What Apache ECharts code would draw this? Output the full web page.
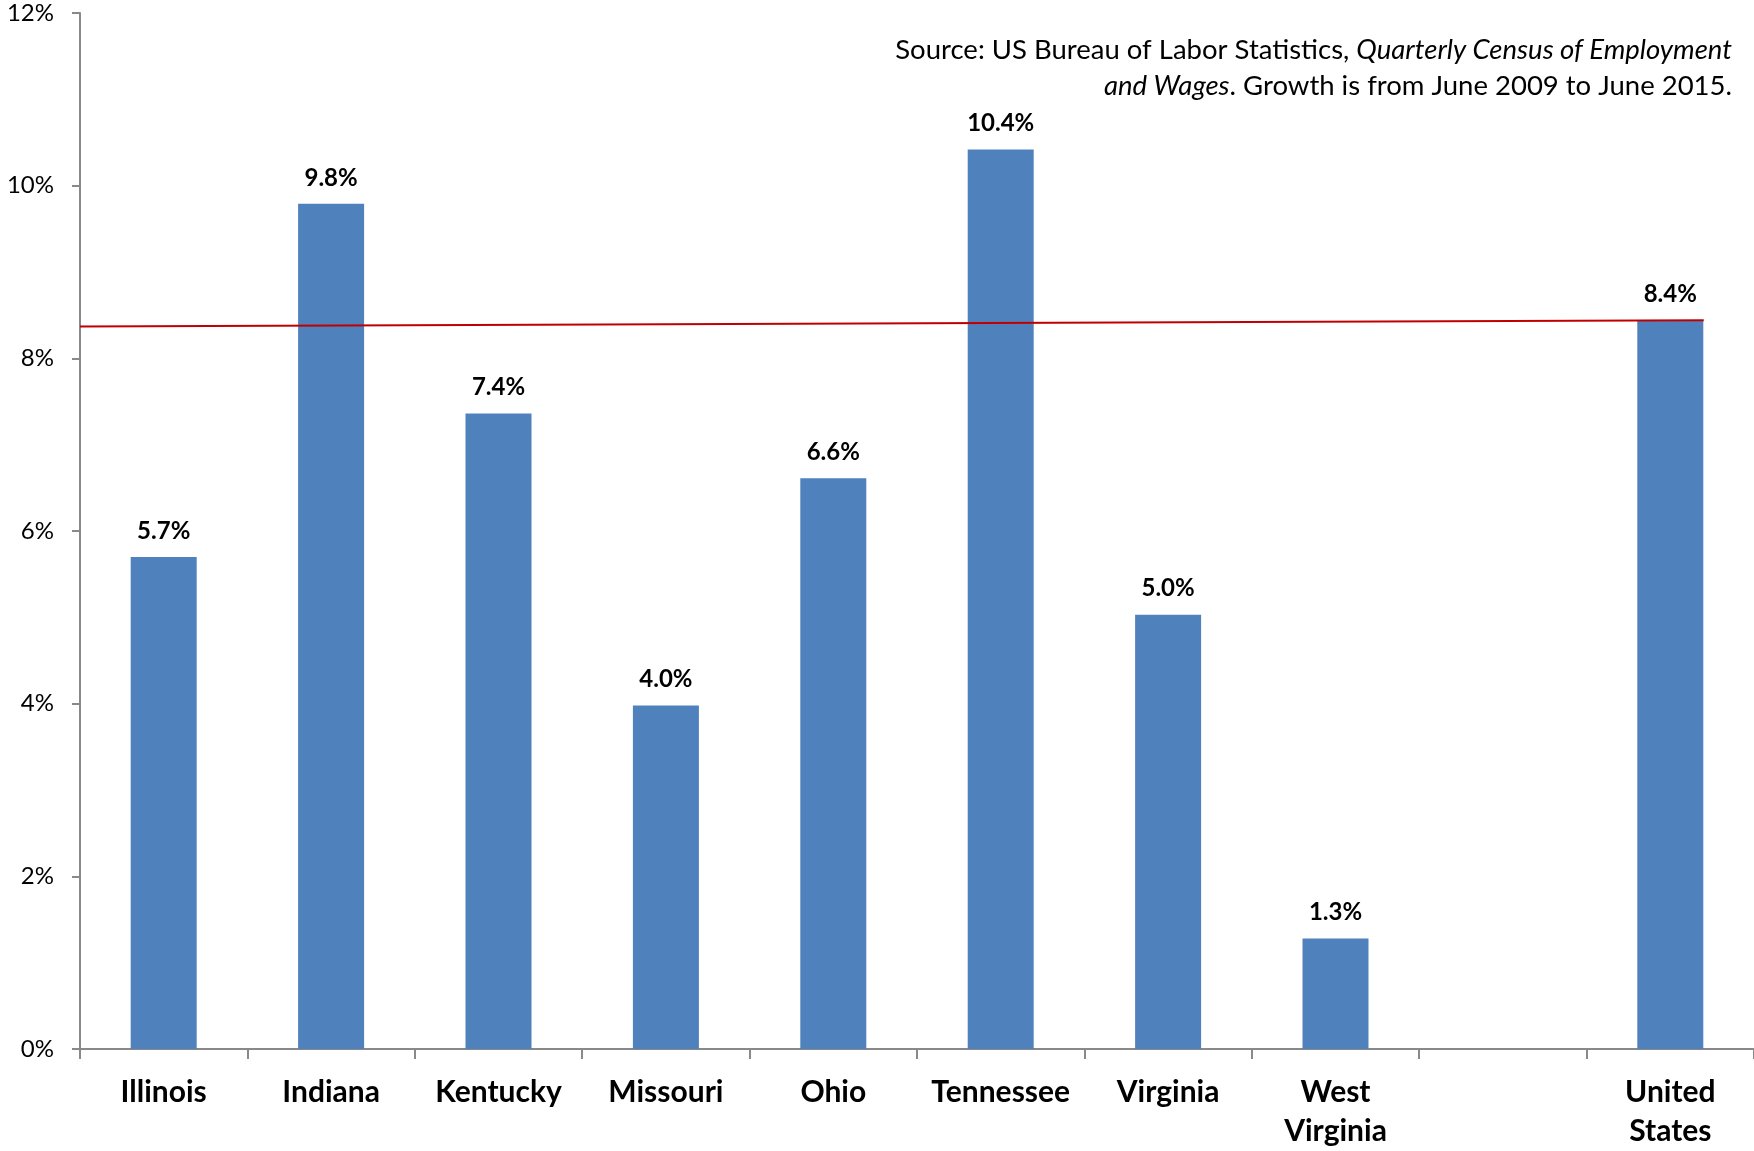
<!DOCTYPE html>
<html>
<head>
<meta charset="utf-8">
<script src="https://cdn.jsdelivr.net/npm/echarts@6/dist/echarts.min.js"></script>
<style>html,body{margin:0;padding:0;background:#fff;}#c{width:1754px;height:1151px;}</style>
</head>
<body>
<div id="c"></div>
<script>
const categories = ['Illinois', 'Indiana', 'Kentucky', 'Missouri', 'Ohio', 'Tennessee', 'Virginia', 'West\nVirginia', '', 'United\nStates'];
const growth = [5.7, 9.79, 7.36, 3.98, 6.61, 10.42, 5.03, 1.28, null, 8.44];
const usLine = [[0, 8.37], [9.7, 8.44]];
const yTicks = [0, 2, 4, 6, 8, 10, 12];
const sourceLine1 = ['Source: US Bureau of Labor Statistics, ', 'Quarterly Census of Employment'];
const sourceLine2 = ['and Wages', '. Growth is from June 2009 to June 2015.'];

const chart = echarts.init(document.getElementById('c'));
const font = 'Lato, "Open Sans", sans-serif';
const rich = {
  n: { fontFamily: font, fontSize: 27.5, color: '#000' },
  i: { fontFamily: font, fontSize: 27.5, fontStyle: 'italic', color: '#000' }
};
chart.setOption({
  animation: false,
  backgroundColor: '#ffffff',
  grid: { left: 80, top: 13, width: 1678, height: 1039 },
  xAxis: [{
    type: 'category',
    data: categories,
    axisLine: { lineStyle: { color: '#898989', width: 2 } },
    axisTick: { show: true, alignWithLabel: false, length: 10, lineStyle: { color: '#898989', width: 2 } },
    axisLabel: { margin: 24, color: '#000', fontFamily: font, fontWeight: 'bold', fontSize: 30, lineHeight: 39, interval: 0 }
  }, {
    type: 'value', min: 0, max: 10, show: false, position: 'bottom'
  }],
  yAxis: {
    type: 'value', min: yTicks[0], max: yTicks[yTicks.length - 1], interval: 2,
    splitLine: { show: false },
    axisLine: { show: true, lineStyle: { color: '#898989', width: 2 } },
    axisTick: { show: true, length: 8, lineStyle: { color: '#898989', width: 2 } },
    axisLabel: { margin: 26, color: '#000', fontFamily: font, fontSize: 24, formatter: v => v + '%' }
  },
  graphic: [{
    type: 'text', z: 10,
    style: {
      x: 1732, y: 50, align: 'right', verticalAlign: 'middle',
      text: '{n|' + sourceLine1[0] + '}{i|' + sourceLine1[1] + '}',
      rich: rich
    }
  }, {
    type: 'text', z: 10,
    style: {
      x: 1732, y: 86, align: 'right', verticalAlign: 'middle',
      text: '{i|' + sourceLine2[0] + '}{n|' + sourceLine2[1] + '}',
      rich: rich
    }
  }],
  series: [{
    type: 'bar', data: growth, barWidth: 66, xAxisIndex: 0,
    itemStyle: { color: '#4F81BD' },
    label: { show: true, position: 'top', distance: 14, color: '#000', fontFamily: font, fontWeight: 'bold', fontSize: 24,
      formatter: p => p.value == null ? '' : p.value.toFixed(1) + '%' }
  }, {
    type: 'line', xAxisIndex: 1, data: usLine, symbol: 'none', z: 5,
    lineStyle: { color: '#C00000', width: 2 }
  }]
});
</script>
</body>
</html>
